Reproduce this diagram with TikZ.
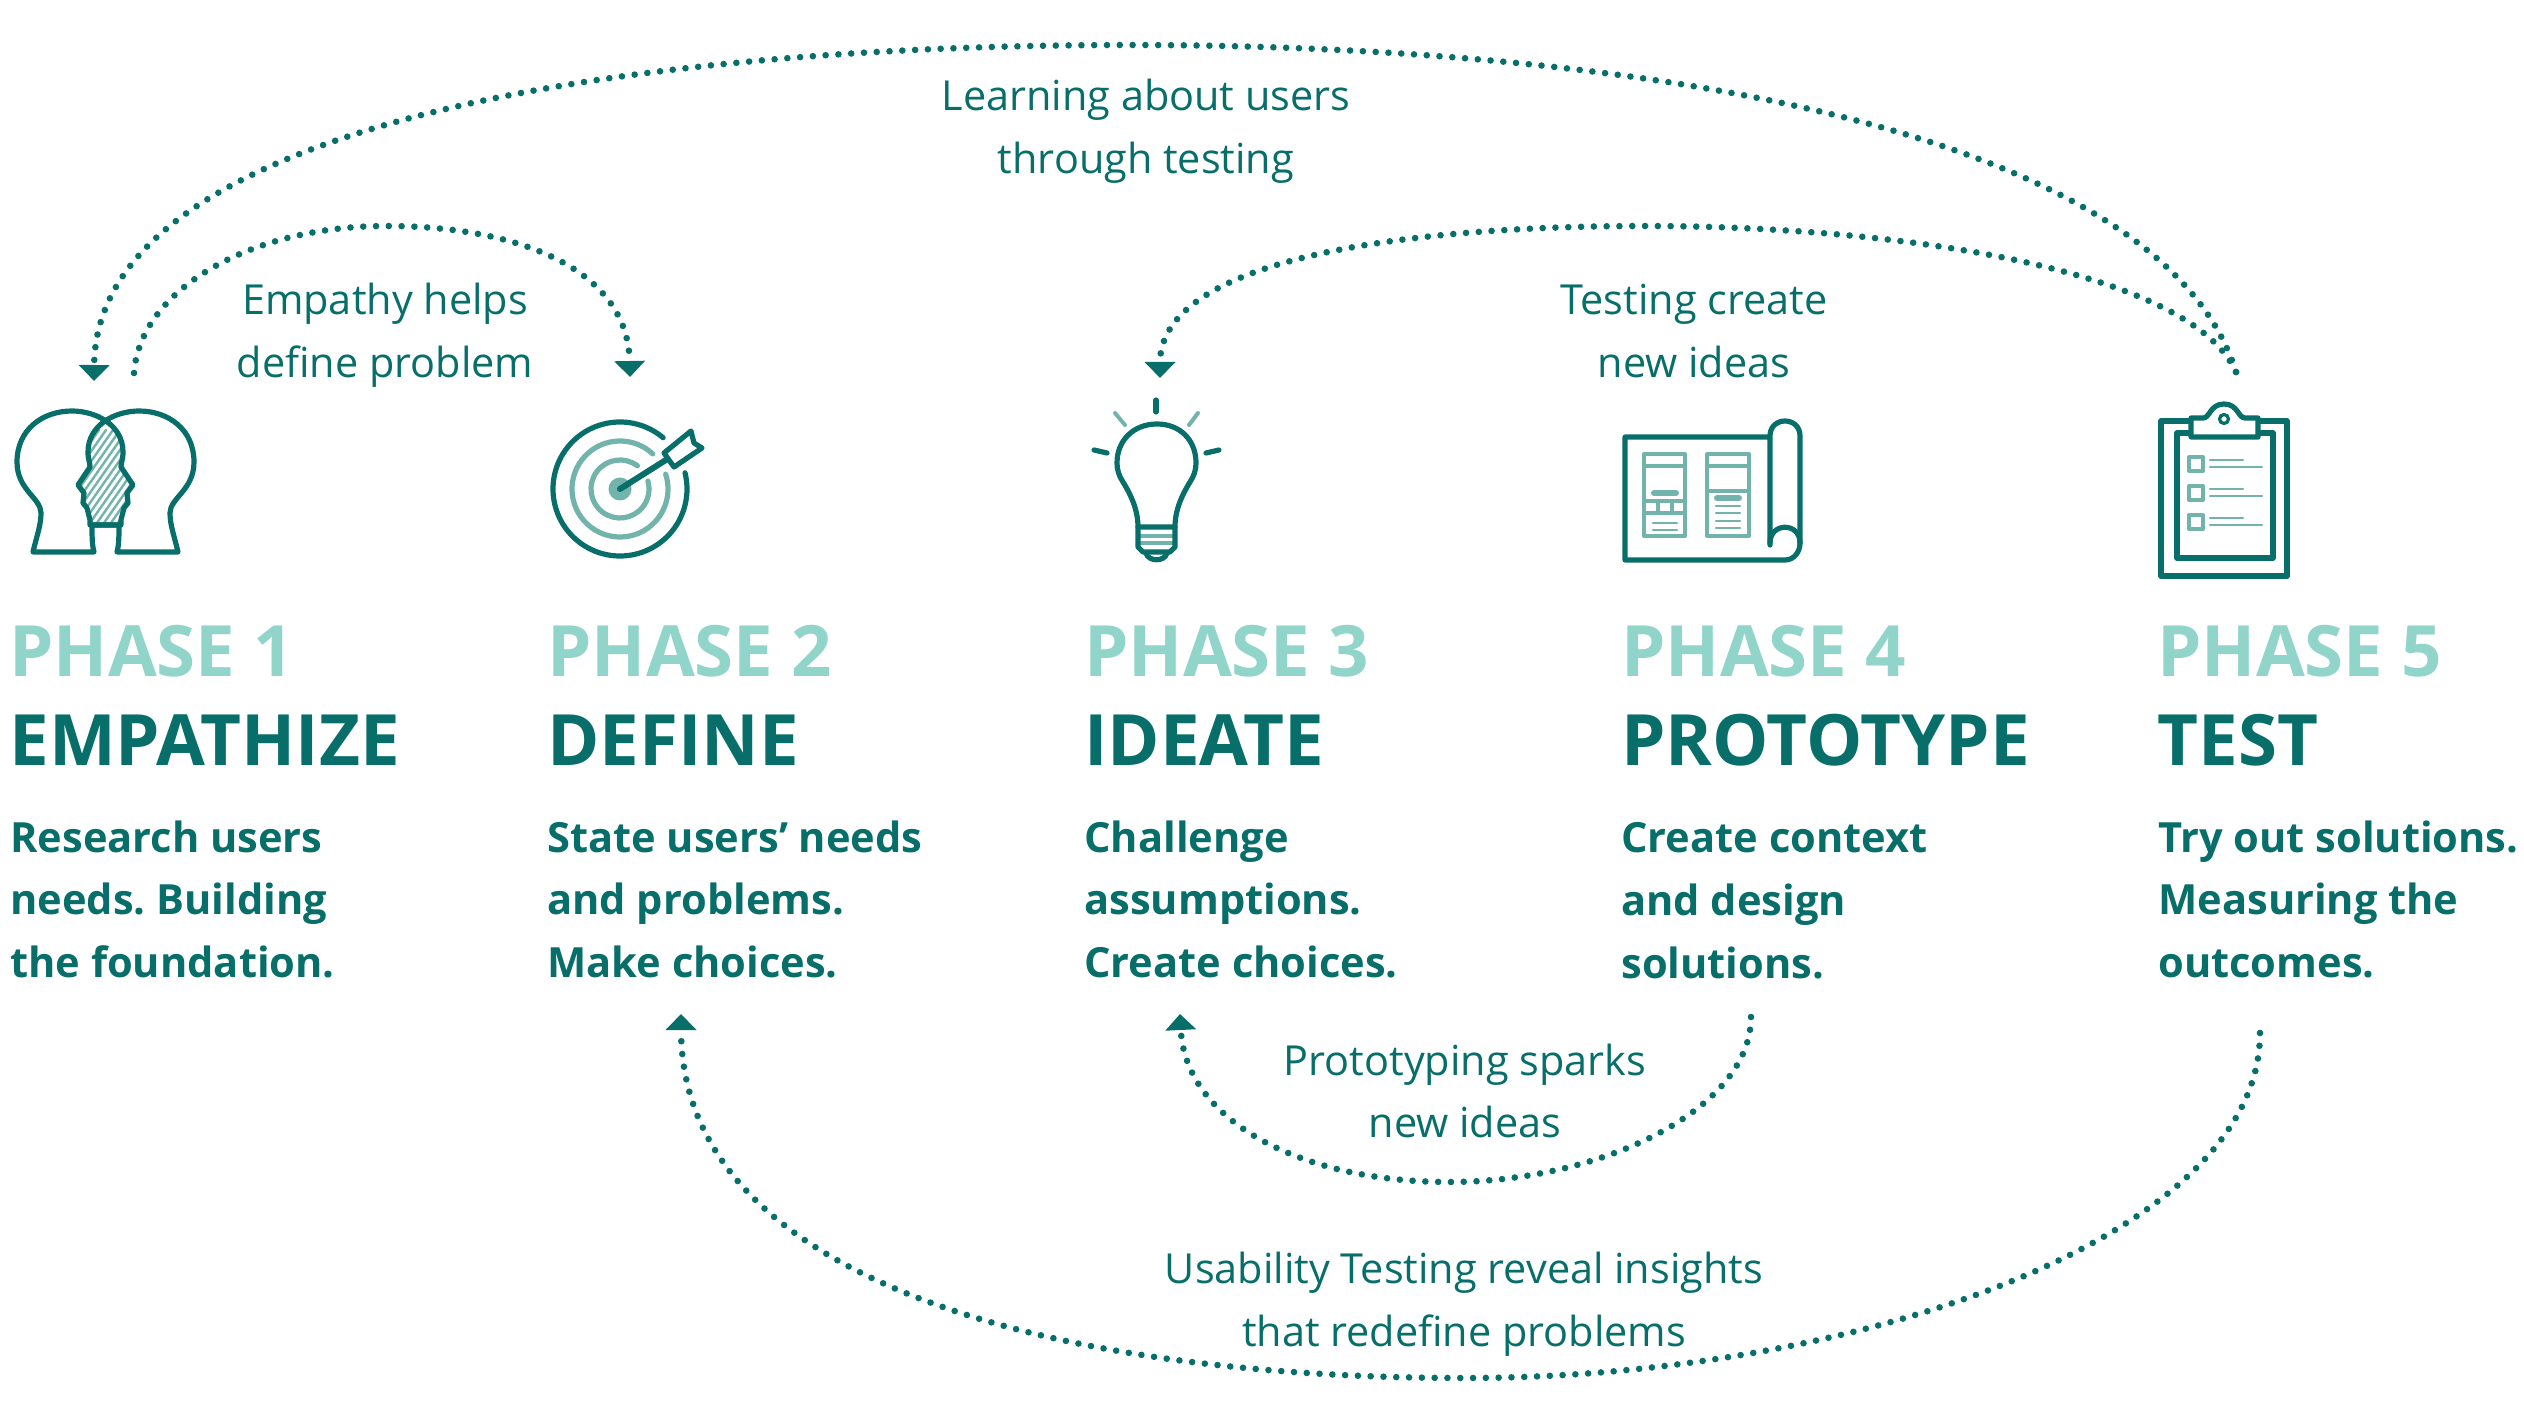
\documentclass[tikz,border=0pt]{standalone}
\usepackage{fontspec}
\setmainfont{Open Sans}
\usetikzlibrary{arrows.meta}
\definecolor{tealdark}{HTML}{076E69}
\definecolor{tealmid}{HTML}{72B3AC}
\definecolor{teallight}{HTML}{91D4CA}
\tikzstyle{phase} = [anchor=base west, inner sep=0pt, text=teallight, font=\fontsize{35.4}{36}\selectfont\bfseries]
\tikzstyle{stage} = [anchor=base west, inner sep=0pt, text=tealdark, font=\fontsize{35.4}{36}\selectfont\bfseries]
\tikzstyle{task} = [anchor=north west, inner sep=0pt, align=left, text=tealdark, font=\fontsize{20.8}{31.4}\selectfont\bfseries\frenchspacing]
\tikzstyle{note} = [inner sep=0pt, align=center, text=tealdark, font=\fontsize{20.7}{31.4}\selectfont]
\tikzstyle{flow} = [tealdark, line width=3.3pt, line cap=round, dash pattern=on 0pt off 6.4pt, -{Triangle[width=15pt,length=8pt]}]
\tikzstyle{icon} = [tealdark, line width=2.6pt, line join=round, line cap=round]
\tikzstyle{iconlight} = [tealmid, line width=2pt, line join=round, line cap=round]
\tikzstyle{iconthin} = [tealmid, line width=1.2pt, line cap=round]
\newcommand{\headpath}{(94,552) -- (33,552) .. controls (37,535) and (41,525) .. (41,513) .. controls (41,498) and (17,490) .. (17,462) .. controls (17,430) and (42,411) .. (72,411) .. controls (96,411) and (123,425) .. (123,452) .. controls (123,460) and (121,462) .. (121,467) -- (133,485) -- (127,493) -- (128,503) -- (124,508) -- (121,520) -- (121,525) -- (92,525) .. controls (92,535) and (92,545) .. (94,552) -- cycle}
\begin{document}
\begin{tikzpicture}[x=0.5pt, y=-0.5pt]
    \useasboundingbox (0,0) rectangle (2524,1411);

    \node[phase] (phase1) at (9,677) {PHASE 1};
    \node[phase] (phase2) at (547,677) {PHASE 2};
    \node[phase] (phase3) at (1084,677) {PHASE 3};
    \node[phase] (phase4) at (1621,677) {PHASE 4};
    \node[phase] (phase5) at (2157,677) {PHASE 5};

    \node[stage] (empathize) at (9,766) {EMPATHIZE};
    \node[stage] (define) at (547,766) {DEFINE};
    \node[stage] (ideate) at (1084,766) {IDEATE};
    \node[stage] (prototype) at (1621,766) {PROTOTYPE};
    \node[stage] (test) at (2157,766) {TEST};

    \node[task] (task1) at (10,820) {Research users\\needs. Building\\the foundation.};
    \node[task] (task2) at (547,820) {State users’ needs\\and problems.\\Make choices.};
    \node[task] (task3) at (1084,820) {Challenge\\assumptions.\\Create choices.};
    \node[task] (task4) at (1621,822) {Create context\\and design\\solutions.};
    \node[task] (task5) at (2158,820) {Try out solutions.\\Measuring the\\outcomes.};

    \node[note] (learning) at (1146,131) {Learning about users\\through testing};
    \node[note] (empathy) at (385,335) {Empathy helps\\define problem};
    \node[note] (testing) at (1694,331) {Testing create\\new ideas};
    \node[note] (sparks) at (1465,1091) {Prototyping sparks\\new ideas};
    \node[note] (usability) at (1464,1304) {Usability Testing reveal insights\\that redefine problems};

    \coordinate (head in) at (94,381);
    \coordinate (head out) at (134,373);
    \coordinate (target in) at (630,377);
    \coordinate (bulb in) at (1160,378);
    \coordinate (board out) at (2236,372);
    \coordinate (define in) at (681,1014);
    \coordinate (ideate in) at (1180,1014);
    \coordinate (prototype out) at (1751,1017);
    \coordinate (test out) at (2260,1033);

    \draw[flow] (board out) .. controls (2160,130) and (1640,45) .. (1130,45) .. controls (600,45) and (96,130) .. (head in);
    \draw[flow] (head out) .. controls (140,290) and (250,226) .. (386,226) .. controls (520,226) and (628,270) .. (target in);
    \draw[flow] (board out) .. controls (2190,270) and (1900,226) .. (1645,226) .. controls (1400,226) and (1160,260) .. (bulb in);
    \draw[flow] (prototype out) .. controls (1751,1110) and (1600,1182) .. (1449,1182) .. controls (1300,1182) and (1185,1120) .. (ideate in);
    \draw[flow] (test out) .. controls (2260,1240) and (1850,1378) .. (1465,1378) .. controls (1050,1378) and (681,1280) .. (define in);

    % heads
    \begin{scope}
        \clip \headpath;
        \begin{scope}[shift={(211,0)}, xscale=-1]
            \clip \headpath;
            \foreach \x in {77,84,...,203}
                \draw[iconthin] (\x,530) -- ++(-70,-100);
        \end{scope}
    \end{scope}
    \draw[icon] \headpath;
    \draw[icon, shift={(211,0)}, xscale=-1] \headpath;

    % target
    \draw[icon] (620,489) ++(-50:67) arc (-50:-374:67);
    \draw[iconlight, line width=2.6pt] (620,489) ++(-47:48) arc (-47:-378:48);
    \draw[iconlight, line width=2.6pt] (620,489) ++(-53:29) arc (-53:-376:29);
    \fill[tealmid] (620,489) circle (11.5);
    \draw[icon, line width=3pt] (620,489) -- (669,458);
    \draw[icon, fill=white] (664,453) -- (691,431) -- (694,443) -- (702,448) -- (674,467) -- cycle;

    % bulb
    \draw[icon] (1138,527) .. controls (1138,510) and (1131,495) .. (1123,482) .. controls (1119,476) and (1117,470) .. (1117,463) .. controls (1117,440) and (1134,424) .. (1157,424) .. controls (1180,424) and (1196,440) .. (1196,463) .. controls (1196,470) and (1194,476) .. (1190,482) .. controls (1182,495) and (1175,510) .. (1175,527);
    \draw[iconlight] (1140,536) -- (1173,536);
    \draw[iconlight] (1140,543) -- (1173,543);
    \draw[icon] (1138,527) -- (1175,527) -- (1175,547) -- (1170,552) -- (1143,552) -- (1138,547) -- cycle;
    \draw[icon] (1146,553) .. controls (1148,562) and (1165,562) .. (1167,553);
    \draw[icon] (1156,400) -- (1156,412);
    \draw[icon] (1094,450) -- (1107,453);
    \draw[icon] (1219,450) -- (1206,453);
    \draw[iconlight] (1115,413) -- (1125,425);
    \draw[iconlight] (1198,413) -- (1189,425);

    % blueprint
    \draw[icon] (1769,437) -- (1625,437) -- (1625,560) -- (1785,560) .. controls (1794,560) and (1800,552) .. (1800,543) -- (1800,436) .. controls (1800,416) and (1770,416) .. (1770,436) -- (1770,545);
    \draw[icon] (1770,543) .. controls (1770,522) and (1800,522) .. (1800,543);
    \draw[iconlight] (1644,454) rectangle (1685,536);
    \draw[iconlight] (1644,466) -- (1685,466);
    \draw[iconlight] (1644,501) -- (1685,501);
    \draw[iconlight] (1644,513) -- (1685,513);
    \draw[iconlight] (1658,501) -- (1658,513);
    \draw[iconlight] (1672,501) -- (1672,513);
    \draw[iconlight, line width=3pt] (1654,493) -- (1676,493);
    \draw[iconlight] (1707,454) rectangle (1749,536);
    \draw[iconlight] (1707,466) -- (1749,466);
    \draw[iconlight] (1707,491) -- (1749,491);
    \draw[iconlight, line width=3pt] (1717,498) -- (1739,498);
    \foreach \y in {523,530}
        \draw[iconthin] (1653,\y) -- (1677,\y);
    \foreach \y in {506,513,521,528}
        \draw[iconthin] (1716,\y) -- (1740,\y);

    % clipboard
    \draw[icon] (2191,421) -- (2161,421) -- (2161,576) -- (2287,576) -- (2287,421) -- (2258,421);
    \draw[icon] (2177,433) rectangle (2273,558);
    \draw[icon, fill=white] (2191,418) -- (2203,418) .. controls (2210,418) and (2210,404) .. (2224,404) .. controls (2238,404) and (2238,418) .. (2245,418) -- (2258,418) -- (2258,437) -- (2191,437) -- cycle;
    \draw[tealdark, line width=1.6pt] (2224,419) circle (4.5);
    \foreach \y in {457,486,515} {
        \draw[iconlight] (2189,\y) rectangle (2203,\y+14);
        \draw[iconthin] (2210,\y+3) -- (2243,\y+3);
        \draw[iconthin] (2210,\y+10) -- (2262,\y+10);
    }
\end{tikzpicture}
\end{document}
